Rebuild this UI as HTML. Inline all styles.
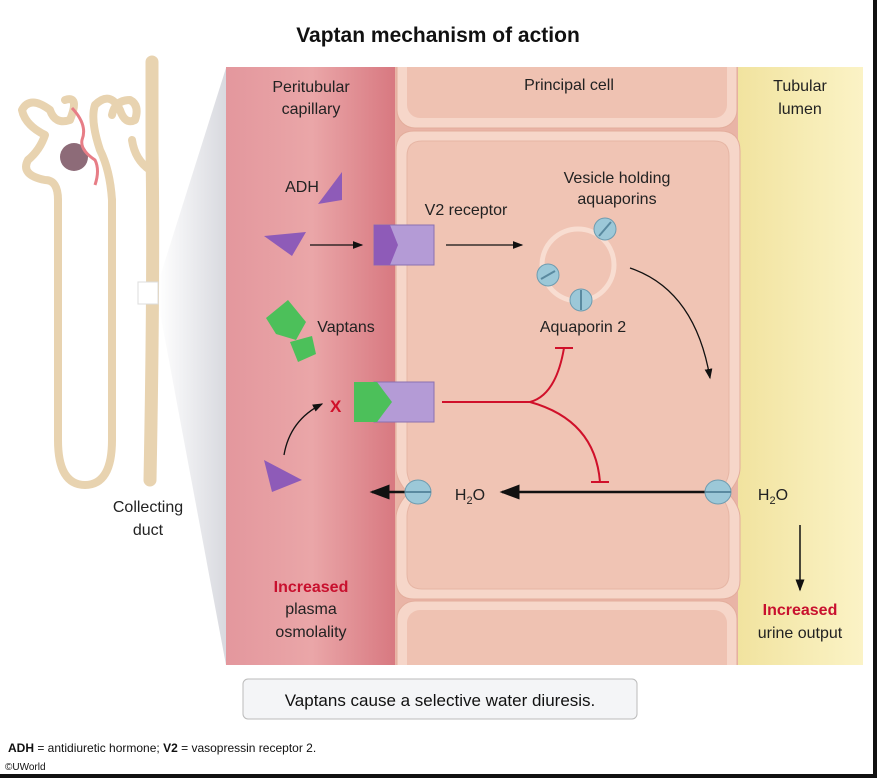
<!DOCTYPE html>
<html><head><meta charset="utf-8"><style>
html,body{margin:0;padding:0;background:#fff;}
body{width:877px;height:778px;overflow:hidden;position:relative;font-family:"Liberation Sans",sans-serif;}
svg text{font-family:"Liberation Sans",sans-serif;}
</style></head><body>
<svg width="877" height="778" viewBox="0 0 877 778" xmlns="http://www.w3.org/2000/svg">
<defs>
<linearGradient id="red" x1="0" x2="1"><stop offset="0" stop-color="#e3979d"/><stop offset="0.5" stop-color="#eaa6a8"/><stop offset="1" stop-color="#d7777f"/></linearGradient>
<linearGradient id="yel" x1="0" x2="1"><stop offset="0" stop-color="#f1e39f"/><stop offset="1" stop-color="#fbf3c6"/></linearGradient>
<linearGradient id="cone" x1="0" x2="1"><stop offset="0" stop-color="#fff"/><stop offset="1" stop-color="#d8d9df"/></linearGradient>
<clipPath id="pc"><rect x="226" y="67" width="637" height="598"/></clipPath>
<marker id="ah" markerWidth="8" markerHeight="8" refX="7" refY="4" orient="auto"><path d="M0,1 L8,4 L0,7 z" fill="#111"/></marker>
</defs>
<rect width="877" height="778" fill="#fff"/>
<text x="438" y="42" font-size="21" font-weight="bold" text-anchor="middle" fill="#111">Vaptan mechanism of action</text>
<polygon points="158,283 226,68 226,665 158,302" fill="url(#cone)"/>
<g clip-path="url(#pc)">
<rect x="226" y="67" width="172" height="598" fill="url(#red)"/>
<rect x="395" y="67" width="345" height="598" fill="#e9b4a6"/>
<rect x="738" y="67" width="125" height="598" fill="url(#yel)"/>
<rect x="397" y="40" width="340" height="88" rx="18" fill="#f6d6c9" stroke="#e3ad9c"/>
<rect x="407" y="40" width="320" height="78" rx="13" fill="#efc2b2"/>
<path d="M414,131 H720 Q740,131 740,151 V468 Q740,480 728,493 Q740,506 740,518 V580 Q740,599 720,599 H414 Q396,599 396,580 V518 Q396,506 408,493 Q396,480 396,468 V151 Q396,131 414,131 Z" fill="#f6d6c9" stroke="#e3ad9c"/>
<path d="M422,141 H714 Q729,141 729,156 V470 Q729,481 718,493 Q729,505 729,516 V574 Q729,589 714,589 H422 Q407,589 407,574 V516 Q407,505 418,493 Q407,481 407,470 V156 Q407,141 422,141 Z" fill="#f0c4b4" stroke="#e6b6a5"/>
<rect x="397" y="601" width="340" height="90" rx="18" fill="#f6d6c9" stroke="#e3ad9c"/>
<rect x="407" y="610" width="320" height="80" rx="13" fill="#efc2b2"/>
</g>
<g font-size="16" fill="#222" text-anchor="middle">
<text x="311" y="92">Peritubular</text><text x="311" y="114">capillary</text>
<text x="569" y="90">Principal cell</text>
<text x="800" y="91">Tubular</text><text x="800" y="114">lumen</text>
<text x="302" y="192">ADH</text>
<text x="466" y="215">V2 receptor</text>
<text x="617" y="183">Vesicle holding</text><text x="617" y="204">aquaporins</text>
<text x="346" y="332">Vaptans</text>
<text x="583" y="332">Aquaporin 2</text>
<text x="148" y="512">Collecting</text><text x="148" y="535">duct</text>
<text x="311" y="592" font-weight="bold" fill="#c8102e">Increased</text>
<text x="311" y="614">plasma</text><text x="311" y="637">osmolality</text>
<text x="800" y="615" font-weight="bold" fill="#c8102e">Increased</text>
<text x="800" y="638">urine output</text>
<text x="470" y="500">H<tspan font-size="11" dy="4">2</tspan><tspan dy="-4">O</tspan></text>
<text x="773" y="500">H<tspan font-size="11" dy="4">2</tspan><tspan dy="-4">O</tspan></text>
</g>
<polygon points="318,204 342,172 342,200" fill="#8e5bb8"/>
<polygon points="264,236 306,232 292,256" fill="#8e5bb8"/>
<polygon points="264,460 302,480 272,492" fill="#8e5bb8"/>
<polygon points="266,318 288,300 306,322 296,340 276,334" fill="#4cc05a"/>
<polygon points="290,342 312,336 316,354 298,362" fill="#4cc05a"/>
<rect x="374" y="225" width="60" height="40" fill="#b49bd6" stroke="#8a70b0"/>
<polygon points="374,225 390,225 398,245 390,265 374,265" fill="#8e5bb8"/>
<rect x="374" y="382" width="60" height="40" fill="#b49bd6" stroke="#8a70b0"/>
<polygon points="354,382 377,382 392,402 377,422 354,422" fill="#4cc05a"/>
<line x1="310" y1="245" x2="362" y2="245" stroke="#111" stroke-width="1.3" marker-end="url(#ah)"/>
<line x1="446" y1="245" x2="522" y2="245" stroke="#111" stroke-width="1.3" marker-end="url(#ah)"/>
<path d="M284,455 Q290,420 322,404" fill="none" stroke="#111" stroke-width="1.3" marker-end="url(#ah)"/>
<text x="330" y="412" font-size="17" font-weight="bold" fill="#d0102a">X</text>
<path d="M630,268 Q695,290 710,378" fill="none" stroke="#111" stroke-width="1.3" marker-end="url(#ah)"/>
<line x1="715" y1="492" x2="502" y2="492" stroke="#111" stroke-width="2.5" marker-end="url(#ah)"/>
<line x1="405" y1="492" x2="372" y2="492" stroke="#111" stroke-width="2.5" marker-end="url(#ah)"/>
<line x1="800" y1="525" x2="800" y2="590" stroke="#111" stroke-width="1.5" marker-end="url(#ah)"/>
<path d="M442,402 H530 Q556,395 564,348" fill="none" stroke="#d0102a" stroke-width="2"/>
<line x1="555" y1="348" x2="573" y2="348" stroke="#d0102a" stroke-width="2"/>
<path d="M530,402 Q595,420 600,482" fill="none" stroke="#d0102a" stroke-width="2"/>
<line x1="591" y1="482" x2="609" y2="482" stroke="#d0102a" stroke-width="2"/>
<circle cx="578" cy="265" r="36" fill="none" stroke="#f8ddd1" stroke-width="5"/>
<g fill="#9cc8d8" stroke="#6e9cb0">
<circle cx="605" cy="229" r="11"/><circle cx="548" cy="275" r="11"/><circle cx="581" cy="300" r="11"/>
<ellipse cx="418" cy="492" rx="13" ry="12"/><ellipse cx="718" cy="492" rx="13" ry="12"/>
</g>
<g stroke="#5a8aa0" stroke-width="2">
<line x1="599" y1="236" x2="611" y2="222"/><line x1="541" y1="279" x2="555" y2="271"/><line x1="581" y1="290" x2="581" y2="310"/>
<line x1="405" y1="492" x2="431" y2="492"/><line x1="705" y1="492" x2="731" y2="492"/>
</g>
<g fill="none" stroke="#e8d3b0" stroke-linecap="round" stroke-linejoin="round">
<path d="M152,62 V150 Q154,270 150,480" stroke-width="13"/>
<path d="M150,170 Q135,160 132,140" stroke-width="8"/>
<path d="M112,200 V440 Q112,485 85,485 Q58,485 58,440 V200" stroke-width="8"/>
<path d="M58,200 Q58,180 45,180 Q20,175 28,160 Q40,150 45,135 Q25,125 22,110 Q30,95 50,110 Q55,125 70,120 Q80,95 65,100" stroke-width="8"/>
<path d="M112,200 Q110,170 100,150 Q90,120 95,105 Q110,90 120,110 Q125,125 135,120 Q140,105 130,100 Q115,100 112,115" stroke-width="8"/>
</g>
<circle cx="74" cy="157" r="14" fill="#8d6b78"/>
<path d="M72,108 Q88,125 82,140 Q80,150 95,160 Q100,170 95,185" fill="none" stroke="#e77d86" stroke-width="3"/>
<rect x="138" y="282" width="20" height="22" fill="#fff" stroke="#ddd"/>
<rect x="243" y="679" width="394" height="40" rx="5" fill="#f4f5f7" stroke="#bbb"/>
<text x="440" y="706" font-size="17" text-anchor="middle" fill="#111">Vaptans cause a selective water diuresis.</text>
<text x="8" y="752" font-size="12" fill="#111"><tspan font-weight="bold">ADH</tspan> = antidiuretic hormone; <tspan font-weight="bold">V2</tspan> = vasopressin receptor 2.</text>
<text x="5" y="770" font-size="10" fill="#111">©UWorld</text>
<rect x="0" y="774" width="877" height="4" fill="#111"/>
<rect x="873" y="0" width="4" height="778" fill="#111"/>
</svg>
</body></html>
